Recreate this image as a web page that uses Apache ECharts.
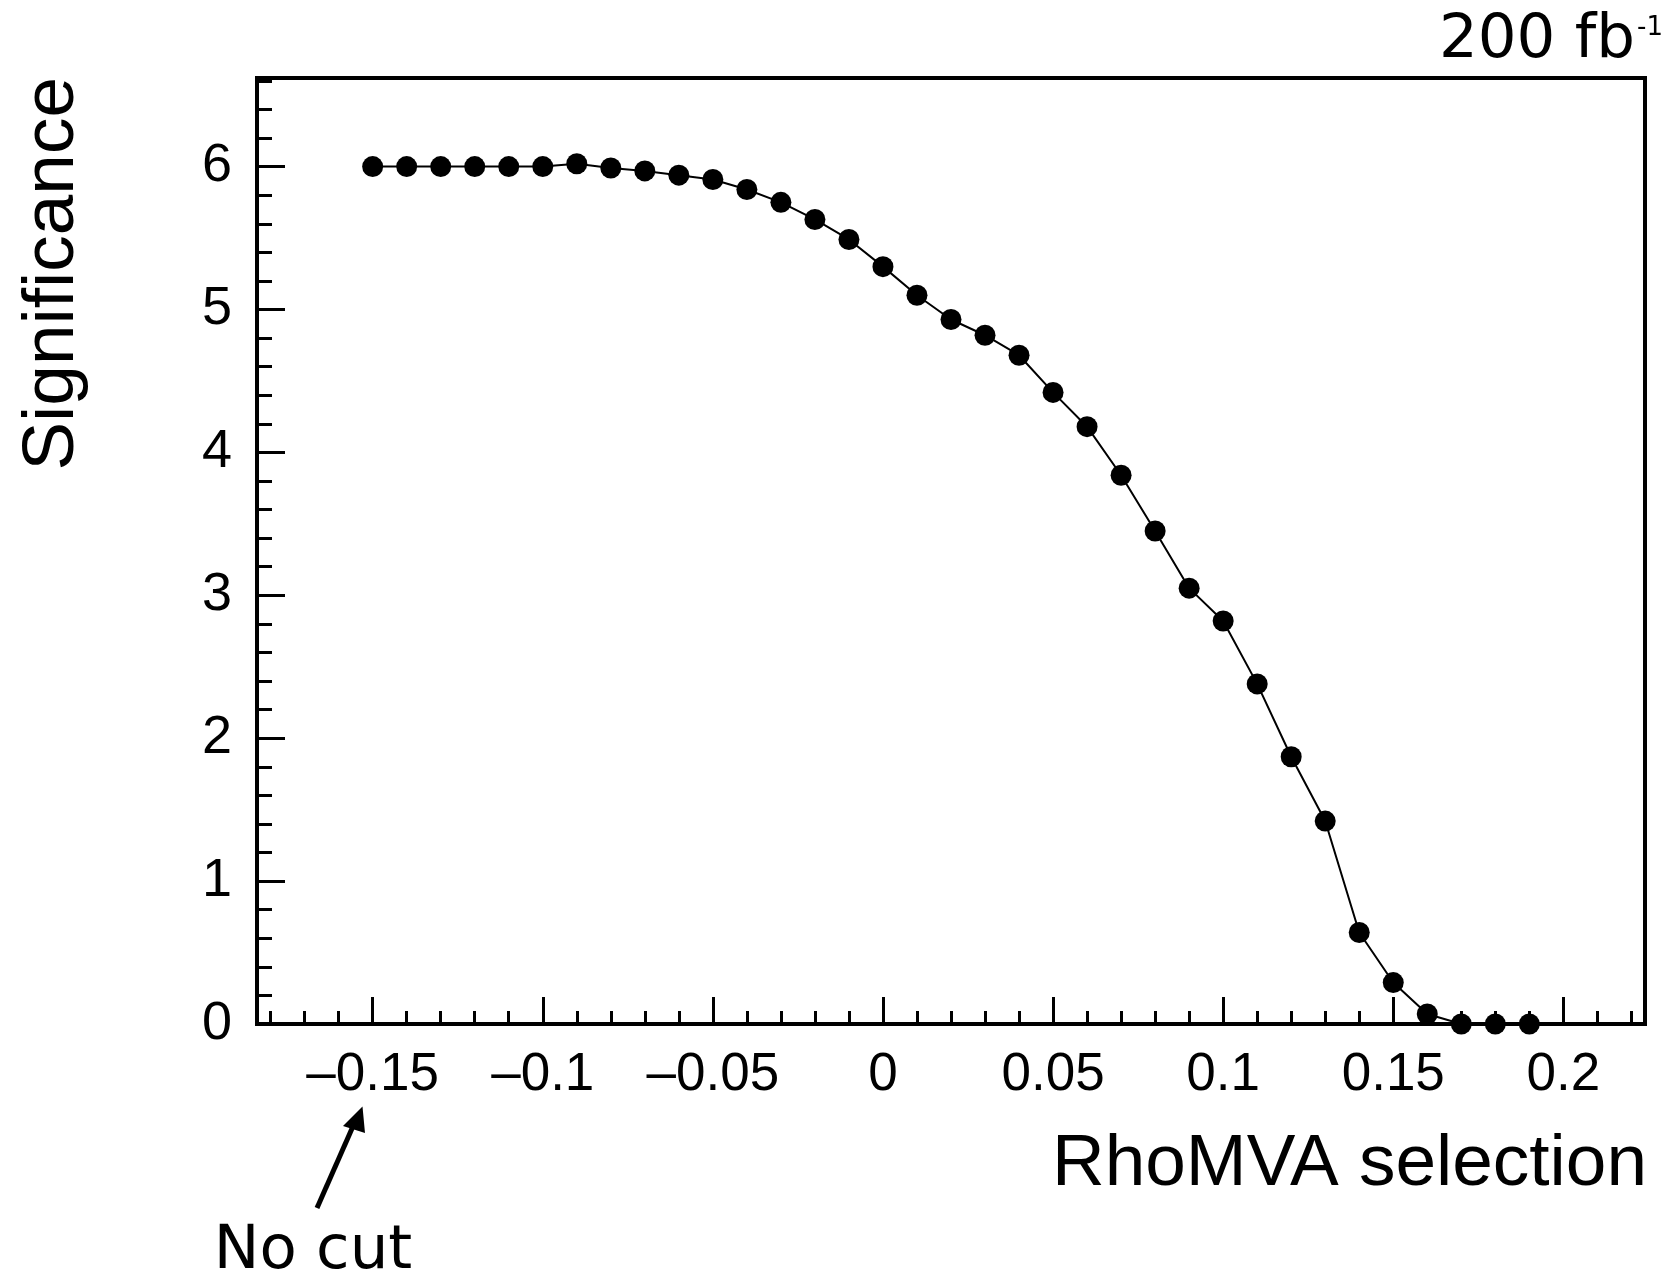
<!DOCTYPE html>
<html>
<head>
<meta charset="utf-8">
<script src="https://cdn.jsdelivr.net/npm/echarts@6/dist/echarts.min.js"></script>
<style>
  html, body { margin: 0; padding: 0; background: #fff; }
  #chart { width: 1667px; height: 1277px; }
</style>
</head>
<body>
<div id="chart"></div>
<script>
// ---- data ----
const rhoCut = [-0.15, -0.14, -0.13, -0.12, -0.11, -0.10, -0.09, -0.08, -0.07, -0.06,
                -0.05, -0.04, -0.03, -0.02, -0.01, 0.00, 0.01, 0.02, 0.03, 0.04,
                0.05, 0.06, 0.07, 0.08, 0.09, 0.10, 0.11, 0.12, 0.13, 0.14,
                0.15, 0.16, 0.17, 0.18, 0.19];
const significance = [6.00, 6.00, 6.00, 6.00, 6.00, 6.00, 6.02, 5.99, 5.97, 5.94,
                      5.91, 5.84, 5.75, 5.63, 5.49, 5.30, 5.10, 4.93, 4.82, 4.68,
                      4.42, 4.18, 3.84, 3.45, 3.05, 2.82, 2.38, 1.87, 1.42, 0.64,
                      0.29, 0.07, 0.00, 0.00, 0.00];
const xTickValues = [-0.15, -0.1, -0.05, 0, 0.05, 0.1, 0.15, 0.2];
const xTickLabels = ['\u20130.15', '\u20130.1', '\u20130.05', '0', '0.05', '0.1', '0.15', '0.2'];
const yTickValues = [0, 1, 2, 3, 4, 5, 6];
const yTickLabels = ['0', '1', '2', '3', '4', '5', '6'];
const xMinorStep = 0.01;
const yMinorStep = 0.2;

const X_MIN = -0.184, X_MAX = 0.224;
const Y_MIN = 0, Y_MAX = 6.62;

function range(a, b, step) {
  const out = [];
  const n = Math.round((b - a) / step);
  for (let i = 0; i <= n; i++) out.push(Math.round((a + i * step) * 1e6) / 1e6);
  return out;
}
const xMinor = range(-0.18, 0.22, xMinorStep);
const yMinor = range(0, 6.6, yMinorStep);

function lookup(vals, labels) {
  return function (v) {
    for (let i = 0; i < vals.length; i++) {
      if (Math.abs(vals[i] - v) < 1e-9) return labels[i];
    }
    return '';
  };
}

const FONT = 'Liberation Sans';
const chart = echarts.init(document.getElementById('chart'), null, { renderer: 'canvas' });

const option = {
  animation: false,
  backgroundColor: '#fff',
  grid: {
    left: 257, top: 78, right: 22, bottom: 253,
    show: true, borderColor: '#000', borderWidth: 4, backgroundColor: 'transparent'
  },
  xAxis: [
    {
      type: 'value', min: X_MIN, max: X_MAX, position: 'bottom',
      axisLine: { show: true, onZero: false, lineStyle: { color: '#000', width: 4 } },
      axisTick: { show: true, inside: true, length: 27, customValues: xTickValues,
                  lineStyle: { color: '#000', width: 3 } },
      axisLabel: { show: true, customValues: xTickValues, formatter: lookup(xTickValues, xTickLabels),
                   margin: 25, fontSize: 53, color: '#000', fontFamily: FONT },
      splitLine: { show: false }
    },
    {
      type: 'value', min: X_MIN, max: X_MAX, position: 'bottom',
      axisLine: { show: false, onZero: false },
      axisTick: { show: true, inside: true, length: 13, customValues: xMinor,
                  lineStyle: { color: '#000', width: 3 } },
      axisLabel: { show: false },
      splitLine: { show: false }
    }
  ],
  yAxis: [
    {
      type: 'value', min: Y_MIN, max: Y_MAX, position: 'left',
      axisLine: { show: true, onZero: false, lineStyle: { color: '#000', width: 4 } },
      axisTick: { show: true, inside: true, length: 28, customValues: yTickValues,
                  lineStyle: { color: '#000', width: 3 } },
      axisLabel: { show: true, customValues: yTickValues, formatter: lookup(yTickValues, yTickLabels),
                   margin: 25, fontSize: 54, color: '#000', fontFamily: FONT },
      splitLine: { show: false }
    },
    {
      type: 'value', min: Y_MIN, max: Y_MAX, position: 'left',
      axisLine: { show: false, onZero: false },
      axisTick: { show: true, inside: true, length: 15, customValues: yMinor,
                  lineStyle: { color: '#000', width: 3 } },
      axisLabel: { show: false },
      splitLine: { show: false }
    }
  ],
  series: [
    {
      type: 'line',
      xAxisIndex: 0, yAxisIndex: 0,
      data: rhoCut.map((x, i) => [x, significance[i]]),
      symbol: 'circle', symbolSize: 21,
      clip: false,
      itemStyle: { color: '#000' },
      lineStyle: { color: '#000', width: 2 },
      z: 5
    }
  ],
  graphic: [
    { type: 'text', x: 1647, y: 1165, z: 10,
      style: { text: 'RhoMVA selection', font: '73px "Liberation Sans"', fill: '#000',
               align: 'right', verticalAlign: 'middle' } },
    { type: 'text', x: 53, y: 77, rotation: Math.PI / 2, z: 10,
      style: { text: 'Significance', font: '73px "Liberation Sans"', fill: '#000',
               align: 'right', verticalAlign: 'middle' } },
    { type: 'text', x: 1635, y: 41, z: 10,
      style: { text: '200 fb', font: '61px "DejaVu Sans"', fill: '#000',
               align: 'right', verticalAlign: 'middle' } },
    { type: 'text', x: 1637, y: 28, z: 10,
      style: { text: '-1', font: '26px "DejaVu Sans"', fill: '#000',
               align: 'left', verticalAlign: 'middle' } },
    { type: 'text', x: 313, y: 1252, z: 10,
      style: { text: 'No cut', font: '61px "DejaVu Sans"', fill: '#000',
               align: 'center', verticalAlign: 'middle' } },
    { type: 'line', z: 10,
      shape: { x1: 317, y1: 1208, x2: 354, y2: 1124 },
      style: { stroke: '#000', lineWidth: 5 } },
    { type: 'polygon', z: 10,
      shape: { points: [[362.5, 1106.5], [343, 1126], [365, 1133]] },
      style: { fill: '#000' } }
  ]
};
chart.setOption(option);
</script>
</body>
</html>
